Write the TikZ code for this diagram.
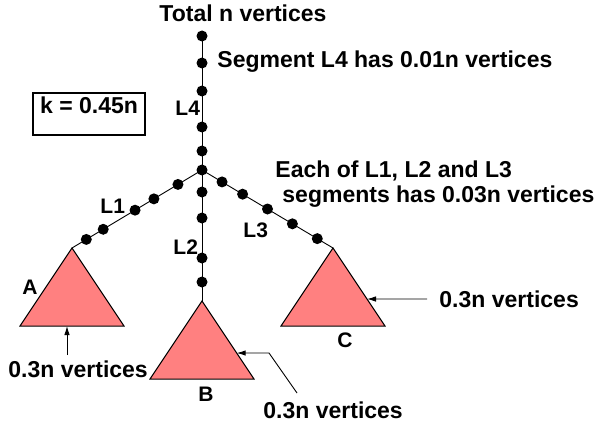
\documentclass[tikz,border=0pt]{standalone}
\usepackage{fontspec}
\setmainfont{Liberation Sans}
\usetikzlibrary{arrows.meta,calc}
\definecolor{tripink}{RGB}{255,128,128}

\begin{document}
\begin{tikzpicture}[x=1pt, y=-1pt, line width=0.9pt,
    vtx/.style={circle, fill, inner sep=0pt, minimum size=11pt},
    tri/.style={draw, fill=tripink, line width=1pt},
    lbl/.style={font=\fontsize{23}{27}\selectfont\bfseries, inner sep=0pt, anchor=base west},
    tag/.style={font=\fontsize{21}{25}\selectfont\bfseries, inner sep=0pt, anchor=base west},
    arr/.style={-{Latex[length=9pt, width=5.5pt]}}]

    \useasboundingbox (0,0) rectangle (600,428);

    \pgfmathsetmacro{\hw}{52}
    \pgfmathsetmacro{\ht}{78}

    % 分岐点と三角形の頂点
    \coordinate (top) at (202,36);
    \coordinate (J) at (202,170);
    \coordinate (Aa) at (72,248);
    \coordinate (Ba) at (202,301);
    \coordinate (Ca) at (333,248);

    % 三角形 A, B, C
    \foreach \t in {A,B,C} {
        \coordinate (\t l) at ($(\t a)+(-\hw,\ht)$);
        \coordinate (\t r) at ($(\t a)+(\hw,\ht)$);
        \draw[tri] (\t a) -- (\t l) -- (\t r) -- cycle;
    }

    % 線分 L1, L2, L3, L4
    \draw (top) -- (J);
    \draw (J) -- (Aa);
    \draw (J) -- (Ba);
    \draw (J) -- (Ca);

    % 頂点
    \foreach \y [count=\i] in {36,63,91,127,151,170} {
        \node[vtx] (v4-\i) at (202,\y) {};
    }
    \foreach \y [count=\i] in {192,218,258,282} {
        \node[vtx] (v2-\i) at (202,\y) {};
    }
    \foreach \t [count=\i] in {0.185,0.37,0.515,0.76,0.89} {
        \node[vtx] (v1-\i) at ($(J)!\t!(Aa)$) {};
    }
    \foreach \t [count=\i] in {0.153,0.31,0.50,0.69,0.88} {
        \node[vtx] (v3-\i) at ($(J)!\t!(Ca)$) {};
    }

    % 説明
    \node[lbl, anchor=base] (total) at (243,22) {Total n vertices};
    \node[lbl] (seg4) at (217,68) {Segment L4 has 0.01n vertices};
    \node[lbl] (each) at (275,177) {Each of L1, L2 and L3};
    \node[lbl] (each2) at (282,202) {segments has 0.03n vertices};
    \node[lbl, draw, line width=1.3pt, anchor=center, minimum width=112pt,
          minimum height=42pt] (kbox) at (89,114) {k = 0.45n};

    % 線分と三角形のラベル
    \node[tag] (L4) at (175,115) {L4};
    \node[tag] (L1) at (100,213) {L1};
    \node[tag] (L2) at (173,254) {L2};
    \node[tag] (L3) at (243,237) {L3};
    \node[tag] (A) at (22,294) {A};
    \node[tag] (B) at (198,401) {B};
    \node[tag] (C) at (337,347) {C};

    % 0.3n vertices と矢印
    \node[lbl] (numA) at (8,377) {0.3n vertices};
    \node[lbl] (numB) at (263,418) {0.3n vertices};
    \node[lbl] (numC) at (439,307) {0.3n vertices};

    \coordinate (hitA) at ($(Aa)+(-5,\ht)$);
    \coordinate (tailA) at (67,355);
    \draw[arr] (tailA) -- (hitA);

    \coordinate (hitB) at ($(Ba)!0.667!(Br)$);
    \coordinate (tailB) at (297,393);
    \draw[arr] (tailB) -- (269,353) -- (hitB);

    \coordinate (hitC) at ($(Ca)!0.654!(Cr)$);
    \coordinate (tailC) at (427,299);
    \draw[arr] (tailC) -- (hitC);

\end{tikzpicture}
\end{document}
